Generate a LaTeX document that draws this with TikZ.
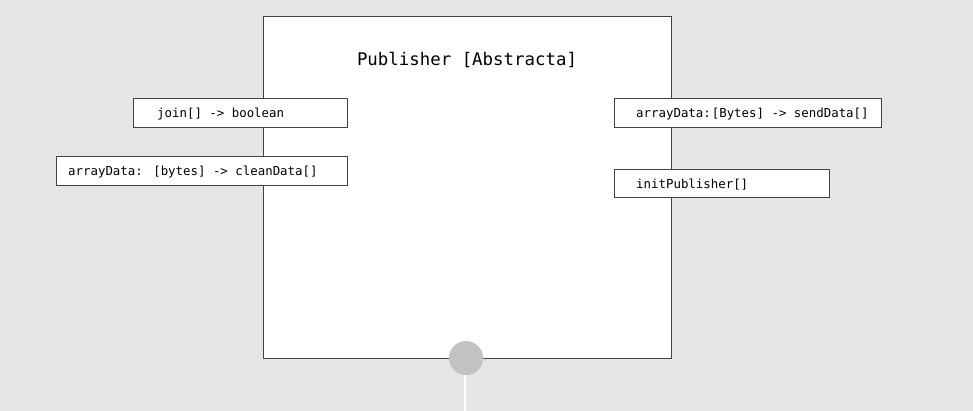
\documentclass[tikz,border=0pt]{standalone}
\usepackage{fontspec}
\setmonofont{DejaVu Sans Mono}
\definecolor{bg}{HTML}{E5E5E5}
\definecolor{edge}{HTML}{444444}
\definecolor{port}{HTML}{C2C2C2}
\tikzset{
  membox/.style={draw=edge, fill=white, line width=0.9pt},
  memtext/.style={anchor=west, inner sep=0pt, font=\ttfamily\fontsize{12.4}{14}\selectfont, text=black},
}
\begin{document}
\begin{tikzpicture}[x=1pt,y=-1pt]
\fill[bg] (0,0) rectangle (973,411);
\useasboundingbox (0,0) rectangle (973,411);
% main component
\node[membox, minimum width=408pt, minimum height=342pt, inner sep=0pt, anchor=north west] (main) at (263,16) {};
\node[font=\ttfamily\fontsize{17.4}{20}\selectfont, inner sep=0pt] (title) at (467,60) {Publisher [Abstracta]};
% left members
\node[membox, minimum width=214pt, minimum height=29pt, inner sep=0pt, anchor=north west] (join) at (133,98) {};
\node[memtext] (jointxt) at (157,114) {join[] -> boolean};
\node[membox, minimum width=291pt, minimum height=29pt, inner sep=0pt, anchor=north west] (clean) at (56,156) {};
\node[memtext] (cleantxt) at (68,172) {arrayData:\hspace{3pt} [bytes] -> cleanData[]};
% right members
\node[membox, minimum width=267pt, minimum height=29pt, inner sep=0pt, anchor=north west] (send) at (614,98) {};
\node[memtext] (sendtxt) at (636,114) {arrayData:\hspace{1pt}[Bytes] -> sendData[]};
\node[membox, minimum width=215pt, minimum height=28pt, inner sep=0pt, anchor=north west] (init) at (614,169) {};
\node[memtext] (inittxt) at (636,184.5) {initPublisher[]};
% port
\coordinate (wireend) at (465,411);
\node[circle, fill=port, minimum size=34pt, inner sep=0pt] (portc) at (466,358) {};
\draw[white, line width=2pt] (portc.south) ++(-1,0) coordinate (ps) (ps) -- (wireend);
\end{tikzpicture}
\end{document}
